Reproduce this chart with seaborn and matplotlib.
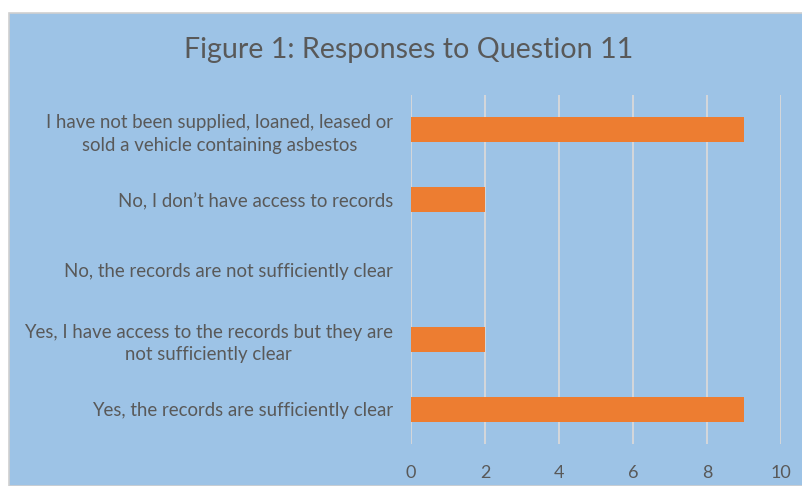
import matplotlib
matplotlib.use("Agg")
import matplotlib.pyplot as plt
import seaborn as sns
import pandas as pd
from matplotlib.patches import Rectangle

categories = [
    "I have not been supplied, loaned, leased or\nsold a vehicle containing asbestos",
    "No, I don\u2019t have access to records",
    "No, the records are not sufficiently clear",
    "Yes, I have access to the records but they are\nnot sufficiently clear",
    "Yes, the records are sufficiently clear",
]
values = [9, 2, 0, 2, 9]
xticks = [0, 2, 4, 6, 8, 10]

df = pd.DataFrame({"cat": categories, "val": values})

sns.set_theme(style="white")
plt.rcParams["font.family"] = ["Lato", "DejaVu Sans"]

W, H = 803, 486
fig = plt.figure(figsize=(W / 100, H / 100), dpi=100, facecolor="white")
blue = "#9DC3E6"
fig.patches.append(Rectangle((9 / W, 0), 1 - 9 / W, 1 - 13 / H, transform=fig.transFigure,
                             facecolor=blue, edgecolor="#D0D0D0", linewidth=1.2, zorder=-10))

ax = fig.add_axes([411 / W, 1 - 444 / H, (781 - 411) / W, (444 - 95) / H])
ax.set_facecolor("none")
sns.barplot(data=df, x="val", y="cat", color="#ED7D31", width=0.36, saturation=1,
            orient="h", ax=ax, zorder=3, linewidth=0)
ax.set_xlim(0, 10)
ax.set_xticks(xticks)
ax.grid(axis="x", color="#D9D9D9", linewidth=1.3, zorder=0)
ax.set_axisbelow(True)
for s in ax.spines.values():
    s.set_visible(False)
ax.set_xlabel("")
ax.set_ylabel("")
ax.tick_params(axis="x", length=0, pad=15, labelsize=13, labelcolor="#595959")
ax.tick_params(axis="y", length=0, pad=13, labelsize=13.4, labelcolor="#595959")
for t in ax.get_yticklabels():
    t.set_horizontalalignment("right")
    t.set_multialignment("center")
    t.set_linespacing(1.4)

fig.text(409 / W, 1 - 50 / H, "Figure 1: Responses to Question 11", ha="center", va="center",
         fontsize=20.6, color="#595959")

fig.savefig("out.png", dpi=100, facecolor="white")
